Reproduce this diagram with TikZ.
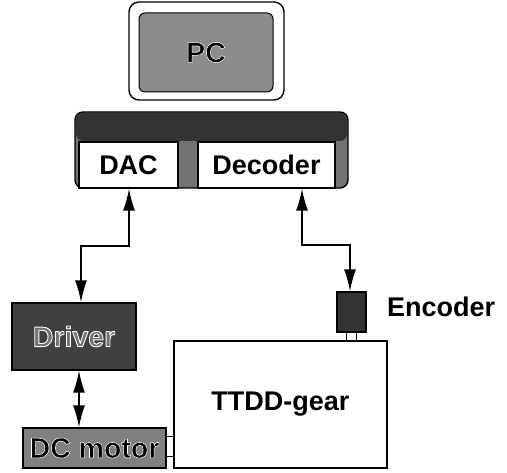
\documentclass[tikz,border=0pt]{standalone}
\usepackage{fontspec}
\setmainfont{Liberation Sans}
\usetikzlibrary{arrows.meta}
% outlined text: fill in #1, white stroke of width #2 drawn over it (one copy of the text)
\newcommand\halotext[3]{{\color{#1}\special{pdf:literal direct 2 Tr 1 G #2 w 1 j}#3\special{pdf:literal direct 0 Tr}}}
\tikzset{
  lbl/.style={font=\bfseries\fontsize{27}{30}\selectfont},
  biglbl/.style={font=\bfseries\fontsize{28.5}{30}\selectfont},
  box/.style={draw=black, line width=1.4pt, inner sep=0pt},
  wire/.style={line width=1.5pt},
  arr/.style={wire, {Latex[length=22pt,width=12pt]}-{Latex[length=22pt,width=12pt]}},
}
\begin{document}
\begin{tikzpicture}[x=1pt,y=-1pt]
\useasboundingbox (0,0) rectangle (507,473);
% PC
\node[box, rounded corners=10pt, fill=white, minimum width=155pt, minimum height=98pt] (pcframe) at (206.5,51) {};
\node[box, line width=1pt, rounded corners=6pt, fill=black!45, minimum width=134pt, minimum height=79pt, biglbl] (pc) at (206,52.5) {\halotext{black}{0.55}{PC}};
% board
\node[box, rounded corners=8pt, fill=black!55, minimum width=273pt, minimum height=76pt] (board) at (211.5,150) {};
\fill[black!80, rounded corners=7pt] (76,113) rectangle (347,141);
\node[box, fill=white, minimum width=99pt, minimum height=46pt, lbl] (dac) at (128.5,165) {DAC};
\node[box, fill=white, minimum width=137pt, minimum height=46pt, lbl] (dec) at (266.5,165) {Decoder};
% driver, motor
\node[box, fill=black!75, minimum width=124pt, minimum height=67pt, biglbl] (driver) at (74,336.5) {\halotext{black!55}{0.9}{Driver}};
\node[box, fill=black!50, minimum width=143pt, minimum height=40pt, biglbl] (motor) at (94.5,448) {\halotext{black}{0.55}{DC motor}};
% gear, encoder
\node[box, line width=1.2pt, fill=white, minimum width=213pt, minimum height=127pt, lbl] (gear) at (280.5,404.5) {TTDD-gear};
\node[box, fill=black!80, minimum width=29pt, minimum height=40pt] (enc) at (351.5,312) {};
\node[lbl, anchor=west, inner sep=0pt] (enclbl) at (387,307) {Encoder};
% connectors
\coordinate (k1) at (129,246);
\coordinate (k2) at (81,246);
\draw[arr] (dac.south -| k1) -- (k1) -- (k2) -- (k2 |- driver.north);
\coordinate (k3) at (302,245);
\coordinate (k4) at (350,245);
\draw[arr] (dec.south -| k3) -- (k3) -- (k4) -- (k4 |- enc.north);
\coordinate (k5) at (79,400);
\draw[arr] (driver.south -| k5) -- (motor.north -| k5);
\coordinate (m1) at (170,437);
\coordinate (m2) at (170,457);
\draw[line width=1pt] (motor.east |- m1) -- (gear.west |- m1);
\draw[line width=1pt] (motor.east |- m2) -- (gear.west |- m2);
\coordinate (e1) at (346,336);
\coordinate (e2) at (356,336);
\draw[line width=1pt] (enc.south -| e1) -- (gear.north -| e1);
\draw[line width=1pt] (enc.south -| e2) -- (gear.north -| e2);
\end{tikzpicture}
\end{document}
